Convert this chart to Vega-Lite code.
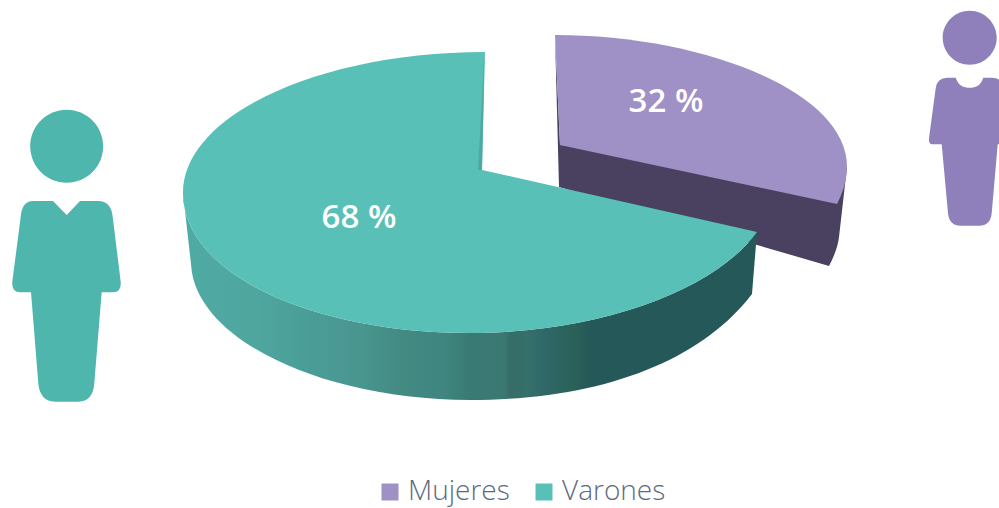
{
"$schema":"https://vega.github.io/schema/vega-lite/v6.json",
"width":999,"height":508,"padding":0,"autosize":{"type":"none"},"background":"white",
"config":{"view":{"stroke":null}},
"data":{"values":[{"sexo":"Mujeres","pct":32},{"sexo":"Varones","pct":68}]},
"layer":[
{"transform":[{"filter":"datum.sexo==='Mujeres'"}],
 "mark":{"type":"point","filled":true,"opacity":1,"strokeWidth":0,"size":4,"color":"#49415f","shape":"M55.5,-219 L59.5,-67 L329.5,12 C335.5,1 338.5,-9 339.5,-17 L347.5,-87 L60.5,-109 Z"},"encoding":{}},
{"transform":[{"filter":"datum.sexo==='Mujeres'"}],
 "mark":{"type":"point","filled":true,"opacity":1,"strokeWidth":0,"size":4,"shape":"M55.5,-219 C200.5,-219 347.5,-164 347.5,-87 C347.5,-74 343.5,-62 337.5,-50 L60.5,-109 Z"},
 "encoding":{"color":{"field":"sexo","type":"nominal","scale":{"domain":["Mujeres","Varones"],"range":["#9f90c5","#59c0b8"]},
  "legend":{"title":null,"orient":"none","legendX":376,"legendY":478,"direction":"horizontal","symbolType":"square","symbolSize":289,"symbolOpacity":1,"symbolStrokeWidth":0,"labelFont":"Open Sans","labelFontWeight":300,"labelFontSize":28,"labelColor":"#5c6a80","labelOffset":4,"columnPadding":20}}}},
{"transform":[{"filter":"datum.sexo==='Varones'"}],
 "mark":{"type":"point","filled":true,"opacity":1,"strokeWidth":0,"size":4,
  "color":{"gradient":"linear","x1":0,"y1":0,"x2":1,"y2":0,"stops":[{"offset":0,"color":"#50aaa4"},{"offset":0.13,"color":"#4ea69f"},{"offset":0.22,"color":"#4a9d97"},{"offset":0.28,"color":"#4b9794"},{"offset":0.31,"color":"#48968e"},{"offset":0.38,"color":"#438a83"},{"offset":0.45,"color":"#3f8680"},{"offset":0.5,"color":"#3a7a74"},{"offset":0.56,"color":"#3b7872"},{"offset":0.57,"color":"#366c68"},{"offset":0.6,"color":"#35706a"},{"offset":0.63,"color":"#30686a"},{"offset":0.68,"color":"#2a6258"},{"offset":0.71,"color":"#255858"},{"offset":1,"color":"#255858"}]},
  "shape":"M-316.5,-61 L-307.5,19 C-294.5,91 -169.5,146 -29.5,146 C100.5,146 200.5,108 252.5,40 L257.5,-22 C215.5,36 100.5,79 -29.5,79 C-184.5,79 -316.5,21 -316.5,-61 Z"},"encoding":{}},
{"transform":[{"filter":"datum.sexo==='Varones'"}],
 "mark":{"type":"point","filled":true,"opacity":1,"strokeWidth":0,"size":4,"shape":"M-14.5,-202 C-179.5,-202 -316.5,-139 -316.5,-61 C-316.5,21 -184.5,79 -29.5,79 C100.5,79 215.5,36 257.5,-22 L-17.5,-84 Z"},
 "encoding":{"color":{"field":"sexo","type":"nominal","scale":{"domain":["Mujeres","Varones"],"range":["#9f90c5","#59c0b8"]}}}},
{"transform":[{"filter":"datum.sexo==='Varones'"}],
 "mark":{"type":"point","filled":true,"opacity":1,"strokeWidth":0,"size":4,"color":"#4fa9a3","shape":"M-15,-202 L-21.5,-84 L-17.5,-84 Z"},"encoding":{}},
{"transform":[{"filter":"datum.sexo==='Varones'"}],
 "mark":{"type":"point","filled":true,"opacity":1,"strokeWidth":0,"size":4,"color":"#4fb6ae","shape":"M-469.3,-107.7 A36.5 36.5 0 1 1 -396.3,-107.7 A36.5 36.5 0 1 1 -469.3,-107.7 Z M-432.8,-39 L-446.5,-53 L-466.5,-53 Q-477.5,-53 -478.8,-37.3 L-487.2,27.7 Q-488,38.3 -479.5,38.3 L-468.5,38.3 L-461.2,129.3 Q-459.5,147.7 -444.5,147.7 L-421.2,147.7 Q-406.5,147.7 -405.2,129.3 L-397.8,38.3 L-386.2,38.3 Q-378,38.3 -378.8,27.7 L-386.8,-37.3 Q-388.5,-53 -401.2,-53 L-419.5,-53 Z"},"encoding":{}},
{"transform":[{"filter":"datum.sexo==='Mujeres'"}],
 "mark":{"type":"point","filled":true,"opacity":1,"strokeWidth":0,"size":4,"color":"#8f80bb","clip":true,"shape":"M443.2,-216.3 A27 27 0 1 1 497.2,-216.3 A27 27 0 1 1 443.2,-216.3 Z M456.2,-176.3 C459,-168 464,-166.3 470.2,-166.3 C476.4,-166.3 481,-168 483.8,-176.3 L492.5,-176.3 Q503,-176 504.2,-165.7 L510.5,-115.7 Q511,-109.7 507.5,-109.7 L498.2,-109.7 L492.2,-40.7 Q491,-28.3 479.5,-28.3 L461.2,-28.3 Q449.7,-28.3 448.5,-40.7 L442.2,-109.7 L432.8,-109.7 Q429,-109.7 429.5,-115.7 L436.2,-165.7 Q437.5,-176.3 447.8,-176.3 Z"},"encoding":{}},
{"transform":[{"filter":"datum.sexo==='Mujeres'"},{"calculate":"datum.pct + ' %'","as":"etiqueta"}],
 "mark":{"type":"text","font":"Open Sans","fontWeight":600,"fontSize":33,"color":"white","align":"center","baseline":"middle","dx":166.5,"dy":-152},
 "encoding":{"text":{"field":"etiqueta","type":"nominal"}}},
{"transform":[{"filter":"datum.sexo==='Varones'"},{"calculate":"datum.pct + ' %'","as":"etiqueta"}],
 "mark":{"type":"text","font":"Open Sans","fontWeight":600,"fontSize":33,"color":"white","align":"center","baseline":"middle","dx":-140.5,"dy":-36},
 "encoding":{"text":{"field":"etiqueta","type":"nominal"}}}
]
}
